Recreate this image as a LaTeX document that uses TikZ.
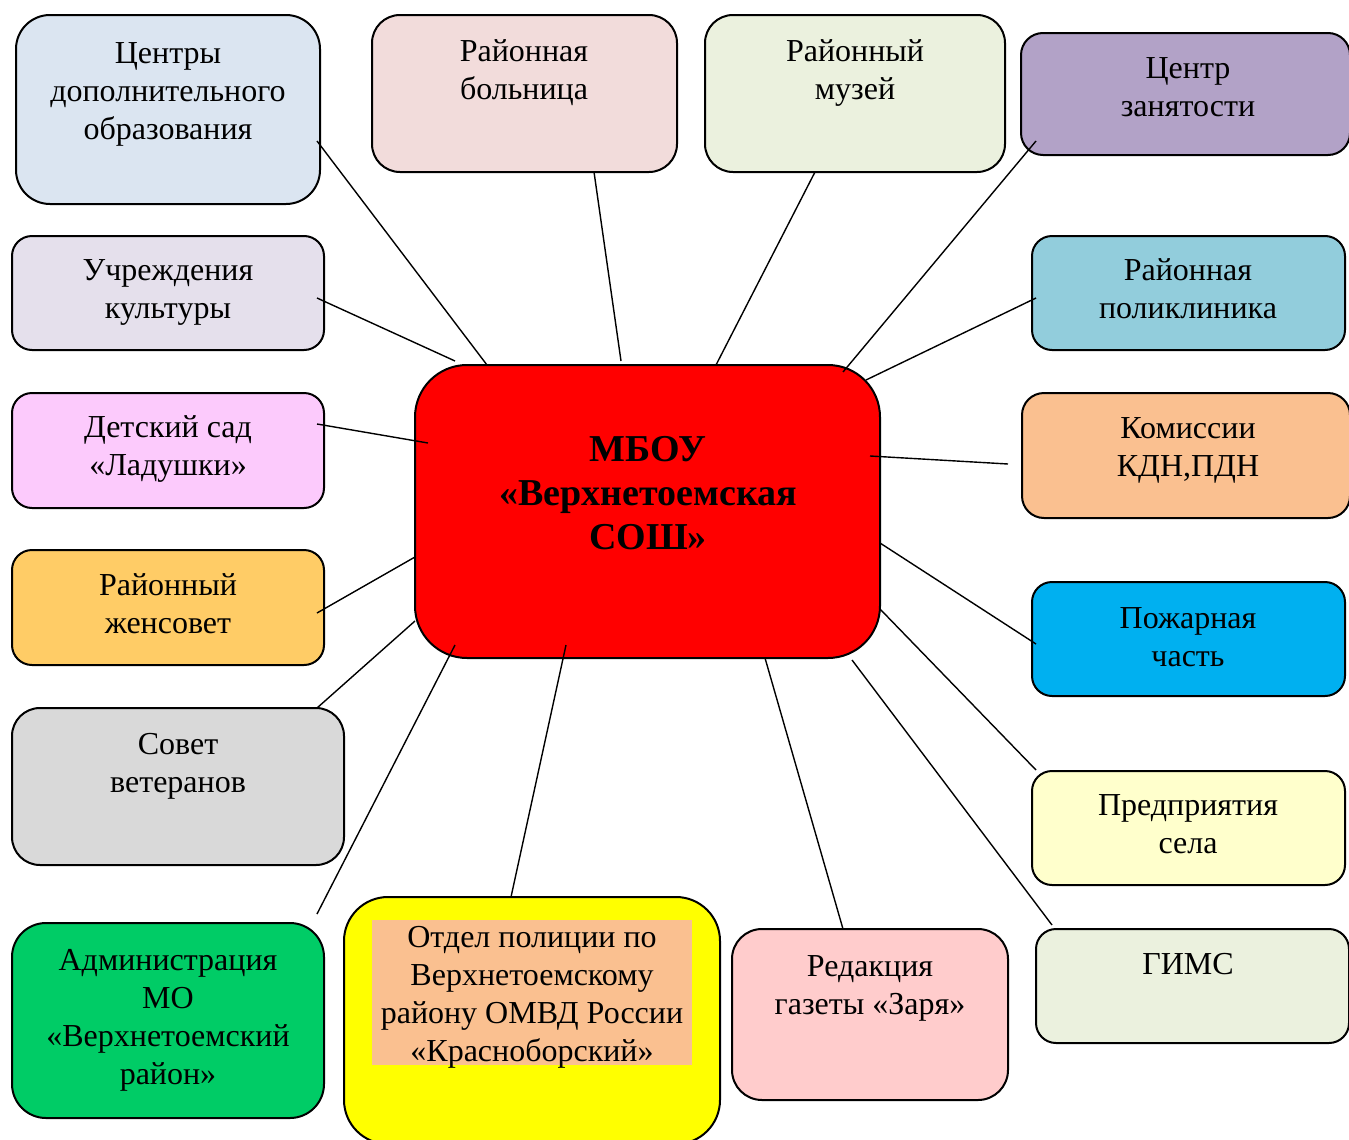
\documentclass[tikz,border=0pt]{standalone}
\usepackage{fontspec}
\setmainfont{Liberation Serif}
\usepackage{tikz}
\usetikzlibrary{positioning}
\usetikzlibrary{fit}
\definecolor{cdoblue}{HTML}{DBE5F1}
\definecolor{bolpink}{HTML}{F2DCDB}
\definecolor{muzgreen}{HTML}{EBF1DE}
\definecolor{cznviolet}{HTML}{B2A2C7}
\definecolor{cultlilac}{HTML}{E5E0EC}
\definecolor{polikteal}{HTML}{92CDDC}
\definecolor{sadpink}{HTML}{FCCAFC}
\definecolor{peach}{HTML}{FAC090}
\definecolor{gold}{HTML}{FFCC66}
\definecolor{fireblue}{HTML}{00B0F0}
\definecolor{vetgrey}{HTML}{D9D9D9}
\definecolor{paleyellow}{HTML}{FFFFCC}
\definecolor{admgreen}{HTML}{00CC66}
\definecolor{redpink}{HTML}{FFCCCC}
\definecolor{policeyellow}{HTML}{FFFF00}
\newcommand{\orgbox}[4]{\node(#1)[box,fill=#2,rounded corners=#3,fit={#4}]{}}
\newcommand{\orgtext}[3]{\node(#1)[txt] at (#2) {#3}}

\begin{document}
\begin{tikzpicture}[
        x=0.5pt, y=-0.5pt,
        every node/.style={font=\fontsize{16}{19}\selectfont},
        box/.style={rectangle,inner sep=0pt,line width=1pt,draw=black},
        txt/.style={align=center,inner sep=0pt},
        link/.style={line width=0.7pt}
      ]
      \useasboundingbox (0,0) rectangle (1349,1140);
      % boxes
      \orgbox{cdo}{cdoblue}{17pt}{(16,15) (320,204)};
      \orgbox{bol}{bolpink}{14pt}{(372,15) (677,172)};
      \orgbox{muz}{muzgreen}{14pt}{(705,15) (1005,172)};
      \orgbox{czn}{cznviolet}{11pt}{(1021,33) (1350,155)};
      \orgbox{cult}{cultlilac}{10pt}{(12,236) (324,350)};
      \orgbox{polik}{polikteal}{10pt}{(1032,236) (1345,350)};
      \orgbox{sad}{sadpink}{10pt}{(12,393) (324,508)};
      \orgbox{kdn}{peach}{11pt}{(1022,393) (1350,518)};
      \orgbox{zhens}{gold}{10pt}{(12,550) (324,665)};
      \orgbox{fire}{fireblue}{10pt}{(1032,582) (1345,696)};
      \orgbox{vet}{vetgrey}{14pt}{(12,708) (344,865)};
      \orgbox{predp}{paleyellow}{10pt}{(1032,771) (1345,885)};
      \orgbox{adm}{admgreen}{17pt}{(12,923) (324,1118)};
      \orgbox{police}{policeyellow}{22pt}{(344,897) (720,1144)};
      \orgbox{gazeta}{redpink}{15pt}{(732,929) (1008,1100)};
      \orgbox{gims}{muzgreen}{10pt}{(1036,929) (1349,1043)};
      \orgbox{school}{red}{26pt}{(415,365) (880,658)};
      % texts
      \orgtext{cdo-t}{168,94}{Центры\\дополнительного\\образования};
      \orgtext{bol-t}{524,73}{Районная\\больница};
      \orgtext{muz-t}{855,73}{Районный\\музей};
      \orgtext{czn-t}{1188,87}{Центр\\занятости};
      \orgtext{cult-t}{168,292}{Учреждения\\культуры};
      \orgtext{polik-t}{1188,289}{Районная\\поликлиника};
      \orgtext{sad-t}{168,449}{Детский сад\\«Ладушки»};
      \orgtext{kdn-t}{1188,450}{Комиссии\\КДН,ПДН};
      \orgtext{zhens-t}{168,604}{Районный\\женсовет};
      \orgtext{fire-t}{1188,637}{Пожарная\\часть};
      \orgtext{vet-t}{178,766}{Совет\\ветеранов};
      \orgtext{predp-t}{1188,824}{Предприятия\\села};
      \orgtext{adm-t}{168,1020}{Администрация\\МО\\«Верхнетоемский\\район»};
      \node(police-t)[txt,fill=peach,minimum width=160pt,minimum height=72.5pt]
        at (532,992.5) {};
      \orgtext{police-l}{532,997}{Отдел полиции по\\Верхнетоемскому\\району ОМВД России\\«Красноборский»};
      \orgtext{gazeta-t}{870,988}{Редакция\\газеты «Заря»};
      \orgtext{gims-t}{1188,964}{ГИМС};
      \node(school-t)[txt,font=\fontsize{19}{22}\selectfont\bfseries]
        at (648,493) {МБОУ\\«Верхнетоемская\\СОШ»};
      % line ends
      \coordinate (cdo-e) at (317,141);    \coordinate (school-cdo) at (487,365);
      \coordinate (cult-e) at (317,298);   \coordinate (school-cult) at (455,361);
      \coordinate (bol-e) at (594,172);    \coordinate (school-bol) at (621,361);
      \coordinate (muz-e) at (815,172);    \coordinate (school-muz) at (716,365);
      \coordinate (czn-e) at (1036,141);   \coordinate (school-czn) at (843,372);
      \coordinate (polik-e) at (1036,298); \coordinate (school-polik) at (866,380);
      \coordinate (sad-e) at (317,424);    \coordinate (school-sad) at (428,443);
      \coordinate (kdn-e) at (1008,464);   \coordinate (school-kdn) at (870,456);
      \coordinate (zhens-e) at (317,613);  \coordinate (school-zhens) at (415,557);
      \coordinate (fire-e) at (1036,644);  \coordinate (school-fire) at (880,543);
      \coordinate (vet-e) at (317,708);    \coordinate (school-vet) at (415,621);
      \coordinate (predp-e) at (1036,770); \coordinate (school-predp) at (880,609);
      \coordinate (adm-e) at (317,914);    \coordinate (school-adm) at (455,645);
      \coordinate (police-e) at (511,897); \coordinate (school-police) at (566,645);
      \coordinate (gazeta-e) at (843,929); \coordinate (school-gazeta) at (765,658);
      \coordinate (gims-e) at (1052,925);  \coordinate (school-gims) at (852,660);
      \foreach \n in {cdo,cult,bol,muz,czn,polik,sad,kdn,zhens,fire,vet,predp,adm,police,gazeta,gims}
        \draw[link] (\n-e) -- (school-\n);
\end{tikzpicture}
\end{document}
